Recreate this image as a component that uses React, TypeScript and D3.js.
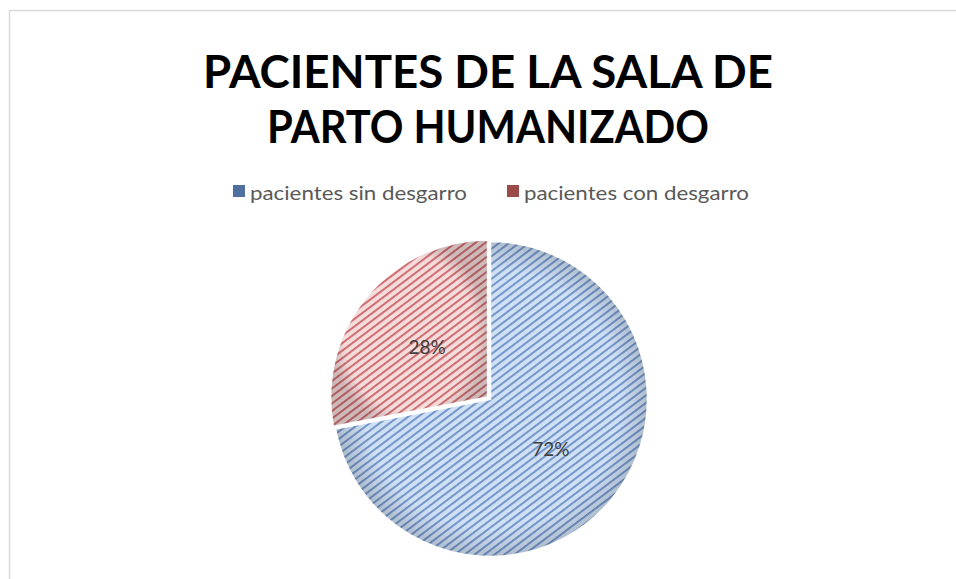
import React from "react";
import * as d3 from "d3";

const categories = ["pacientes sin desgarro", "pacientes con desgarro"];
const values = [72, 28];
const labels = ["72%", "28%"];
const titleLines = ["PACIENTES DE LA SALA DE", "PARTO HUMANIZADO"];

const W = 956;
const H = 579;
const cx = 490;
const cy = 399;
const R = 158;

const bgColors = ["#cfe0f4", "#f4dcdb"];
const lineColors = ["#6186c2", "#c8555b"];
const legendColors = ["#4f6f9f", "#9c4a48"];
const explode = [0, 2.5];

export default function App() {
  const pie = d3.pie<number>().sort(null).startAngle(0).endAngle(2 * Math.PI);
  const arcs = pie(values);
  const arc = d3.arc<d3.PieArcDatum<number>>().innerRadius(0).outerRadius(R);

  return (
    <svg
      width={W}
      height={H}
      style={{ position: "absolute", left: 0, top: 0, background: "#fff" }}
      fontFamily="Lato, 'Open Sans', sans-serif"
    >
      <defs>
        {arcs.map((_, i) => (
          <pattern
            key={i}
            id={`hatch${i}`}
            patternUnits="userSpaceOnUse"
            width={6}
            height={6}
            patternTransform="rotate(-37)"
          >
            <rect width={6} height={6} fill={bgColors[i]} />
            <rect y={0} width={6} height={1.8} fill={lineColors[i]} opacity={0.9} />
          </pattern>
        ))}
        <radialGradient id="shade" cx="0.5" cy="0.5" r="0.5">
          <stop offset="0.82" stopColor="#000" stopOpacity={0} />
          <stop offset="1" stopColor="#000" stopOpacity={0.16} />
        </radialGradient>
      </defs>
      <rect x={9.5} y={10.5} width={W + 20} height={H + 20} fill="#fff" stroke="#d9d9d9" strokeWidth={1.5} />

      {titleLines.map((t, i) => (
        <text
          key={t}
          x={488}
          y={88 + i * 55}
          textAnchor="middle"
          fontSize={45}
          fontWeight={700}
          fill="#000"
          textLength={i === 0 ? 570 : 442}
          lengthAdjust="spacingAndGlyphs"
        >
          {t}
        </text>
      ))}

      {categories.map((c, i) => {
        const x0 = i === 0 ? 233 : 507;
        return (
          <g key={c}>
            <rect x={x0} y={185} width={12} height={12} fill={legendColors[i]} />
            <text x={x0 + 17} y={200} fontSize={20} fill="#595959" textLength={i === 0 ? 217 : 225} lengthAdjust="spacingAndGlyphs">
              {c}
            </text>
          </g>
        );
      })}

      {arcs.map((a, i) => {
        const mid = (a.startAngle + a.endAngle) / 2;
        const dx = Math.sin(mid) * explode[i];
        const dy = -Math.cos(mid) * explode[i];
        return (
          <g key={i} transform={`translate(${cx + dx},${cy + dy})`}>
            <path d={arc(a) || ""} fill={`url(#hatch${i})`} />
            <path d={arc(a) || ""} fill="url(#shade)" />
            <path d={arc(a) || ""} fill="none" stroke="#fff" strokeWidth={2.5} strokeLinejoin="miter" />
          </g>
        );
      })}

      {arcs.map((a, i) => {
        const [lx, ly] = arc.centroid(a);
        const mid = (a.startAngle + a.endAngle) / 2;
        const dx = Math.sin(mid) * explode[i];
        const dy = -Math.cos(mid) * explode[i];
        return (
          <text
            key={i}
            x={cx + dx + lx}
            y={cy + dy + ly + 7}
            textAnchor="middle"
            fontSize={19}
            fill="#404040"
          >
            {labels[i]}
          </text>
        );
      })}
    </svg>
  );
}
